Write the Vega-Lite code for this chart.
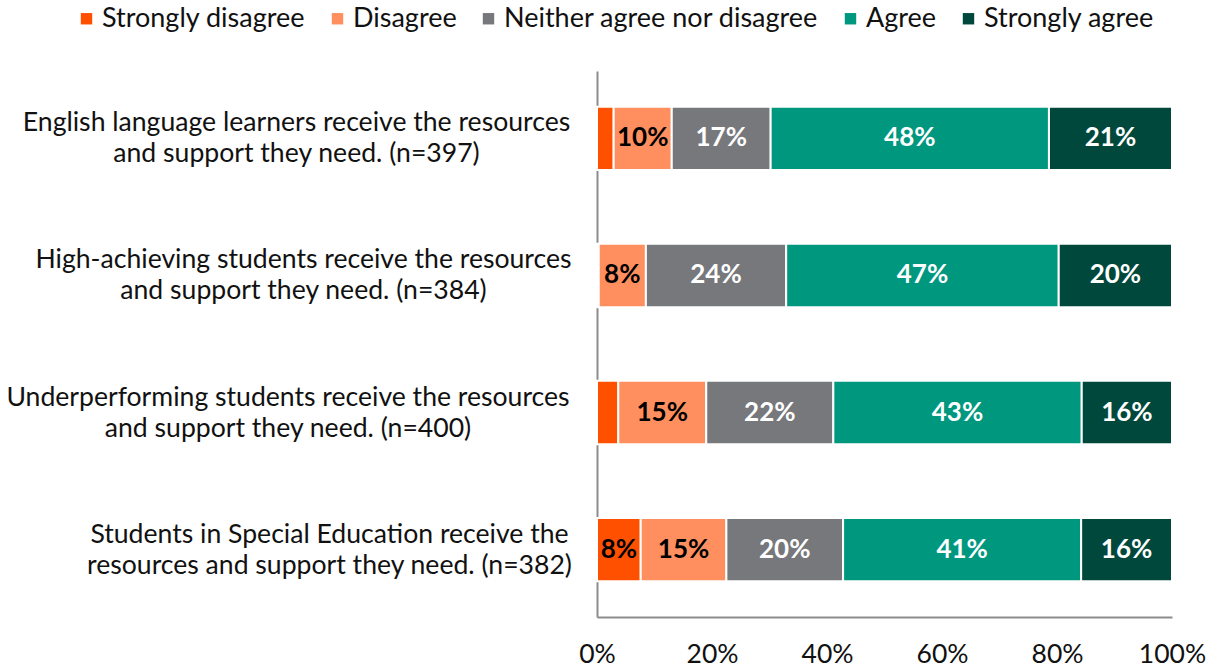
{
  "$schema": "https://vega.github.io/schema/vega-lite/v6.json",
  "autosize": {"type": "none"},
  "padding": {"left": 597, "top": 71, "right": 45, "bottom": 52},
  "width": 575,
  "height": 546,
  "background": "white",
  "config": {
    "font": "Lato",
    "view": {"stroke": null}
  },
  "data": {
    "values": [
      {"statement": "English language learners receive the resources|and support they need. (n=397)", "response": "Strongly disagree", "pct": 0.029},
      {"statement": "English language learners receive the resources|and support they need. (n=397)", "response": "Disagree", "pct": 0.101},
      {"statement": "English language learners receive the resources|and support they need. (n=397)", "response": "Neither agree nor disagree", "pct": 0.172},
      {"statement": "English language learners receive the resources|and support they need. (n=397)", "response": "Agree", "pct": 0.484},
      {"statement": "English language learners receive the resources|and support they need. (n=397)", "response": "Strongly agree", "pct": 0.214},
      {"statement": "High-achieving students receive the resources|and support they need. (n=384)", "response": "Strongly disagree", "pct": 0.003},
      {"statement": "High-achieving students receive the resources|and support they need. (n=384)", "response": "Disagree", "pct": 0.082},
      {"statement": "High-achieving students receive the resources|and support they need. (n=384)", "response": "Neither agree nor disagree", "pct": 0.244},
      {"statement": "High-achieving students receive the resources|and support they need. (n=384)", "response": "Agree", "pct": 0.474},
      {"statement": "High-achieving students receive the resources|and support they need. (n=384)", "response": "Strongly agree", "pct": 0.197},
      {"statement": "Underperforming students receive the resources|and support they need. (n=400)", "response": "Strongly disagree", "pct": 0.037},
      {"statement": "Underperforming students receive the resources|and support they need. (n=400)", "response": "Disagree", "pct": 0.153},
      {"statement": "Underperforming students receive the resources|and support they need. (n=400)", "response": "Neither agree nor disagree", "pct": 0.221},
      {"statement": "Underperforming students receive the resources|and support they need. (n=400)", "response": "Agree", "pct": 0.432},
      {"statement": "Underperforming students receive the resources|and support they need. (n=400)", "response": "Strongly agree", "pct": 0.157},
      {"statement": "Students in Special Education receive the|resources and support they need. (n=382)", "response": "Strongly disagree", "pct": 0.076},
      {"statement": "Students in Special Education receive the|resources and support they need. (n=382)", "response": "Disagree", "pct": 0.149},
      {"statement": "Students in Special Education receive the|resources and support they need. (n=382)", "response": "Neither agree nor disagree", "pct": 0.203},
      {"statement": "Students in Special Education receive the|resources and support they need. (n=382)", "response": "Agree", "pct": 0.414},
      {"statement": "Students in Special Education receive the|resources and support they need. (n=382)", "response": "Strongly agree", "pct": 0.158}
    ]
  },
  "transform": [
    {"calculate": "indexof(['Strongly disagree','Disagree','Neither agree nor disagree','Agree','Strongly agree'], datum.response)", "as": "rank"},
    {"stack": "pct", "groupby": ["statement"], "sort": [{"field": "rank", "order": "ascending"}], "as": ["x0", "x1"]},
    {"calculate": "(datum.x0 + datum.x1) / 2", "as": "xmid"}
  ],
  "encoding": {
    "y": {
      "field": "statement",
      "type": "nominal",
      "sort": null,
      "scale": {"paddingInner": 0.5375, "paddingOuter": 0.26},
      "axis": {
        "title": null,
        "ticks": false,
        "labelAlign": "center",
        "labelPadding": {"expr": "indexof(datum.value,'English')==0 ? 301 : indexof(datum.value,'High')==0 ? 294 : indexof(datum.value,'Under')==0 ? 309.5 : 268"},
        "labelFontSize": 26.6,
        "labelColor": "#111111",
        "labelLineHeight": 31,
        "labelOffset": -15,
        "labelLimit": 700,
        "labelExpr": "split(datum.label, '|')",
        "domainColor": "#8c8c8c",
        "domainWidth": 2
      }
    }
  },
  "layer": [
    {
      "mark": {"type": "bar", "stroke": "white", "strokeWidth": 2},
      "encoding": {
        "x": {
          "field": "x0",
          "type": "quantitative",
          "scale": {"domain": [0, 1], "nice": false},
          "axis": {
            "title": null,
            "format": ".0%",
            "values": [0, 0.2, 0.4, 0.6, 0.8, 1],
            "grid": false,
            "ticks": false,
            "labelFontSize": 26.5,
            "labelColor": "#111111",
            "labelPadding": 24,
            "labelFlush": false,
            "labelOverlap": false,
            "domainColor": "#8c8c8c",
            "domainWidth": 2
          }
        },
        "x2": {"field": "x1"},
        "color": {
          "field": "response",
          "type": "nominal",
          "scale": {
            "domain": ["Strongly disagree", "Disagree", "Neither agree nor disagree", "Agree", "Strongly agree"],
            "range": ["#FF5000", "#FF8F5E", "#77787B", "#00977F", "#00483C"]
          },
          "legend": {
            "title": null,
            "orient": "none",
            "direction": "horizontal",
            "legendX": -524,
            "legendY": -66,
            "symbolType": "square",
            "symbolSize": 130,
            "symbolStrokeWidth": 0,
            "labelFontSize": 27,
            "labelColor": "#111111",
            "labelOffset": 2,
            "columnPadding": 18,
            "labelLimit": 500
          }
        }
      }
    },
    {
      "transform": [{"filter": "datum.pct >= 0.05"}],
      "mark": {"type": "text", "fontSize": 26, "fontWeight": "bold", "align": "center", "baseline": "middle"},
      "encoding": {
        "x": {"field": "xmid", "type": "quantitative"},
        "text": {"field": "pct", "type": "quantitative", "format": ".0%"},
        "color": {
          "condition": {"test": "datum.rank <= 1", "value": "#000000"},
          "value": "white"
        }
      }
    }
  ]
}
